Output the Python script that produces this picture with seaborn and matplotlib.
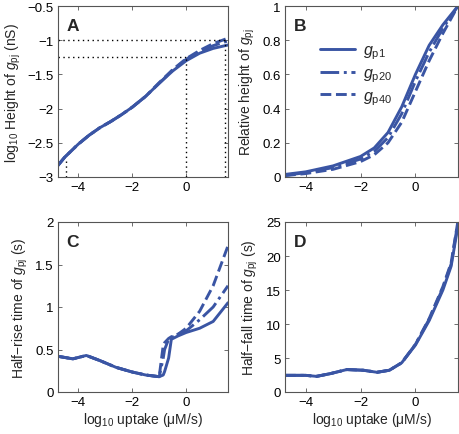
import matplotlib
matplotlib.use('Agg')
import matplotlib.pyplot as plt
import seaborn as sns
import pandas as pd

# ---- data (x = log10 uptake) ----
# A: log10 height of g_pj (nS)
a_x = [-4.75, -4.5, -4.0, -3.6, -3.2, -2.8, -2.4, -2.0, -1.5, -1.0, -0.5, 0.0, 0.5, 1.0, 1.55]
a_p1 = [-2.83, -2.71, -2.52, -2.39, -2.28, -2.19, -2.09, -1.98, -1.82, -1.63, -1.45, -1.30, -1.19, -1.12, -1.07]
a_p20 = [-2.83, -2.71, -2.52, -2.39, -2.28, -2.19, -2.09, -1.98, -1.82, -1.63, -1.44, -1.28, -1.17, -1.08, -1.01]
a_p40 = [-2.83, -2.71, -2.52, -2.39, -2.28, -2.19, -2.09, -1.98, -1.82, -1.62, -1.43, -1.27, -1.15, -1.05, -0.97]

# B: relative height of g_pj
b_x = [-4.75, -4.0, -3.0, -2.0, -1.5, -1.0, -0.5, 0.0, 0.5, 1.0, 1.55]
b_p1 = [0.015, 0.03, 0.065, 0.12, 0.17, 0.26, 0.41, 0.60, 0.77, 0.89, 1.0]
b_p20 = [0.01, 0.025, 0.055, 0.105, 0.15, 0.23, 0.37, 0.56, 0.73, 0.87, 1.0]
b_p40 = [0.008, 0.02, 0.045, 0.09, 0.13, 0.20, 0.32, 0.50, 0.68, 0.84, 1.0]

# C: half-rise time (s)
c_x = [-4.75, -4.2, -3.7, -3.2, -2.6, -2.0, -1.5, -1.0, -0.85, -0.8, -0.65, -0.55, -0.3, 0.0, 0.5, 1.0, 1.55]
c_p1 = [0.42, 0.39, 0.43, 0.37, 0.29, 0.235, 0.20, 0.18, 0.20, 0.24, 0.40, 0.62, 0.66, 0.70, 0.75, 0.83, 1.05]
c_p20 = [0.42, 0.39, 0.43, 0.37, 0.29, 0.235, 0.20, 0.18, 0.40, 0.50, 0.62, 0.64, 0.68, 0.72, 0.85, 1.00, 1.25]
c_p40 = [0.42, 0.39, 0.43, 0.37, 0.29, 0.235, 0.20, 0.18, 0.55, 0.58, 0.63, 0.65, 0.68, 0.75, 0.95, 1.25, 1.72]

# D: half-fall time (s)
d_x = [-4.75, -4.0, -3.6, -3.1, -2.5, -1.9, -1.4, -0.95, -0.5, 0.0, 0.5, 1.0, 1.3, 1.55]
d_p1 = [2.45, 2.45, 2.3, 2.7, 3.3, 3.2, 2.9, 3.2, 4.3, 6.9, 10.5, 15.0, 18.5, 24.5]
d_p20 = [2.45, 2.45, 2.3, 2.7, 3.3, 3.2, 2.9, 3.2, 4.3, 7.0, 10.7, 15.3, 18.8, 25.0]
d_p40 = [2.45, 2.45, 2.3, 2.7, 3.3, 3.2, 2.9, 3.2, 4.3, 7.0, 10.8, 15.5, 19.0, 25.2]

series_names = ['$g_{\\rm p1}$', '$g_{\\rm p20}$', '$g_{\\rm p40}$']
series_styles = ['-', '-.', '--']
BLUE = '#3a55a4'

sns.set_theme(style='white')
plt.rcParams['font.family'] = ['Liberation Sans', 'DejaVu Sans']
plt.rcParams.update({
    'mathtext.fontset': 'custom',
    'mathtext.rm': 'Liberation Sans',
    'mathtext.it': 'Liberation Sans:italic',
    'mathtext.bf': 'Liberation Sans:bold',
    'axes.edgecolor': '#555555',
    'axes.linewidth': 0.8,
    'xtick.direction': 'in',
    'ytick.direction': 'in',
    'xtick.top': True,
    'ytick.right': True,
    'xtick.bottom': True,
    'ytick.left': True,
    'xtick.major.size': 3,
    'ytick.major.size': 3,
    'xtick.major.width': 0.6,
    'ytick.major.width': 0.6,
    'xtick.color': '#555555',
    'ytick.color': '#555555',
    'xtick.labelcolor': 'black',
    'ytick.labelcolor': 'black',
    'font.size': 10,
})

fig = plt.figure(figsize=(4.6, 4.35), dpi=100)
W, H = 460, 435


def add_ax(l, t, r, b):
    return fig.add_axes([l / W, 1 - b / H, (r - l) / W, (b - t) / H])


axA = add_ax(58, 7, 228, 178)
axB = add_ax(285, 7, 458, 178)
axC = add_ax(58, 223, 228, 393)
axD = add_ax(285, 223, 458, 393)


def draw(ax, x, ys, legend=False):
    for y, name, ls in zip(ys, series_names, series_styles):
        df = pd.DataFrame({'x': x, 'y': y})
        sns.lineplot(data=df, x='x', y='y', ax=ax, color=BLUE, lw=2.1,
                     linestyle=ls, label=name if legend else None, sort=False)
    ax.set_xlim(-4.75, 1.55)
    ax.set_xticks([-4, -2, 0])
    ax.set_xticklabels(['\u22124', '\u22122', '0'])
    ax.set_xlabel('')
    ax.tick_params(labelsize=9.5, pad=3)


draw(axA, a_x, [a_p1, a_p20, a_p40])
axA.set_ylim(-3, -0.5)
axA.set_yticks([-3, -2.5, -2, -1.5, -1, -0.5])
axA.set_yticklabels(['\u22123', '\u22122.5', '\u22122', '\u22121.5', '\u22121', '\u22120.5'])
axA.set_ylabel('log$_{10}$ Height of $g_{\\rm pj}$ (nS)', fontsize=10, labelpad=3)
# guide lines
dot = dict(color='black', lw=1.0, ls=(0, (1, 2.5)))
axA.plot([-4.75, 1.45], [-1.0, -1.0], **dot)
axA.plot([1.45, 1.45], [-3, -1.0], **dot)
axA.plot([-4.75, 0.0], [-1.25, -1.25], **dot)
axA.plot([0.0, 0.0], [-3, -1.25], **dot)
axA.plot([-4.47, -4.47], [-3, -2.72], **dot)

draw(axB, b_x, [b_p1, b_p20, b_p40], legend=True)
axB.set_ylim(0, 1)
axB.set_yticks([0, 0.2, 0.4, 0.6, 0.8, 1])
axB.set_yticklabels(['0', '0.2', '0.4', '0.6', '0.8', '1'])
axB.set_ylabel('Relative height of $g_{\\rm pj}$', fontsize=10, labelpad=4)
axB.legend(loc='upper left', bbox_to_anchor=(0.12, 0.87), frameon=False,
           fontsize=11.5, handlelength=2.2, labelspacing=0.25, handletextpad=0.5)

draw(axC, c_x, [c_p1, c_p20, c_p40])
axC.set_ylim(0, 2)
axC.set_yticks([0, 0.5, 1, 1.5, 2])
axC.set_yticklabels(['0', '0.5', '1', '1.5', '2'])
axC.set_ylabel('Half\u2212rise time of $g_{\\rm pj}$ (s)', fontsize=10, labelpad=4)
axC.set_xlabel('log$_{10}$ uptake (\u03bcM/s)', fontsize=10, labelpad=1)

draw(axD, d_x, [d_p1, d_p20, d_p40])
axD.set_ylim(0, 25)
axD.set_yticks([0, 5, 10, 15, 20, 25])
axD.set_ylabel('Half\u2212fall time of $g_{\\rm pj}$ (s)', fontsize=10, labelpad=4)
axD.set_xlabel('log$_{10}$ uptake (\u03bcM/s)', fontsize=10, labelpad=1)

for ax, letter in zip([axA, axB, axC, axD], 'ABCD'):
    ax.text(0.05, 0.93, letter, transform=ax.transAxes, fontsize=12.5,
            fontweight='bold', va='top', ha='left')

fig.savefig('out.png', dpi=100)
